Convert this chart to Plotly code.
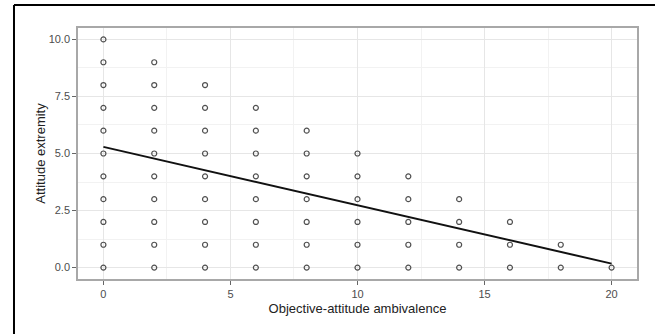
import plotly.graph_objects as go

# Data: attitude extremity vs objective-attitude ambivalence
ambivalence = [0]*11 + [2]*10 + [4]*9 + [6]*8 + [8]*7 + [10]*6 + [12]*5 + [14]*4 + [16]*3 + [18]*2 + [20]*1
extremity = (list(range(0, 11)) + list(range(0, 10)) + list(range(0, 9)) + list(range(0, 8))
             + list(range(0, 7)) + list(range(0, 6)) + list(range(0, 5)) + list(range(0, 4))
             + list(range(0, 3)) + list(range(0, 2)) + list(range(0, 1)))
fit_x = [0, 20]
fit_y = [5.29, 0.175]

x_ticks = [0, 5, 10, 15, 20]
y_ticks = [0, 2.5, 5, 7.5, 10]
y_tick_labels = ["0.0", "2.5", "5.0", "7.5", "10.0"]

fig = go.Figure()
fig.add_trace(go.Scatter(
    x=ambivalence, y=extremity, mode="markers",
    marker=dict(symbol="circle-open", size=5, color="#505050", line=dict(width=1.2)),
    showlegend=False, hoverinfo="skip"))
fig.add_trace(go.Scatter(
    x=fit_x, y=fit_y, mode="lines",
    line=dict(color="#111111", width=2), showlegend=False, hoverinfo="skip"))

axis_common = dict(
    showline=True, mirror=True, linecolor="#a8a8a8", linewidth=1.5,
    ticks="outside", ticklen=4, tickcolor="#666666", tickwidth=1,
    showgrid=True, gridcolor="#e6e6e6", gridwidth=1,
    zeroline=False,
    tickfont=dict(family="Liberation Sans, Arial, sans-serif", size=11, color="#4d4d4d"),
)

fig.update_xaxes(
    range=[-1, 21], tickvals=x_ticks,
    minor=dict(dtick=2.5, showgrid=True, gridcolor="#f2f2f2", gridwidth=0.6, ticks=""),
    title=dict(text="Objective-attitude ambivalence", standoff=5,
               font=dict(family="Liberation Sans, Arial, sans-serif", size=13, color="#222222")),
    **axis_common)
fig.update_yaxes(
    range=[-0.5, 10.5], tickvals=y_ticks, ticktext=y_tick_labels,
    minor=dict(dtick=1.25, showgrid=True, gridcolor="#f2f2f2", gridwidth=0.6, ticks=""),
    title=dict(text="Attitude extremity", standoff=0,
               font=dict(family="Liberation Sans, Arial, sans-serif", size=13, color="#222222")),
    **axis_common)

# outer frame lines (top and left)
fig.add_shape(type="line", xref="paper", yref="paper",
              x0=-0.1145, x1=1.04, y0=1.0916, y1=1.0916,
              line=dict(color="black", width=2))
fig.add_shape(type="line", xref="paper", yref="paper",
              x0=-0.1145, x1=-0.1145, y0=1.0916, y1=-0.25,
              line=dict(color="black", width=2))

fig.update_layout(
    width=655, height=334,
    margin=dict(l=78, r=18, t=28, b=55),
    paper_bgcolor="white", plot_bgcolor="white",
)

fig.write_html("out.html", config={"displayModeBar": False},
               post_script="document.body.style.margin='0';")
